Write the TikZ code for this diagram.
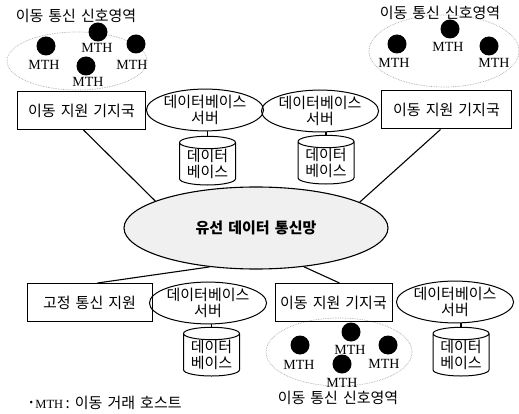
\documentclass[tikz,border=0pt]{standalone}
\usepackage{fontspec}
\setmainfont{Liberation Serif}
\newfontfamily\kr{Noto Sans CJK KR}[WordSpace=1.5]
\usetikzlibrary{shapes.geometric, positioning}

\begin{document}
\begin{tikzpicture}[
  x=1pt, y=-1pt,
  every node/.style={font=\kr\fontsize{15}{16}\selectfont},
  station/.style={draw, line width=1pt, minimum height=38pt, inner sep=0pt},
  dbserver/.style={draw, ellipse, line width=1pt, minimum height=35pt, inner sep=0pt, align=center},
  dbstore/.style={draw, cylinder, shape border rotate=90, aspect=0.3, line width=1pt, minimum width=56pt, minimum height=42pt, inner sep=0pt, align=center},
  cell/.style={draw=gray!70, densely dotted, line width=0.7pt, ellipse, inner sep=0pt},
  host/.style={circle, fill, minimum size=19pt, inner sep=0pt},
  mth/.style={font=\rmfamily\fontsize{14}{14}\selectfont, inner sep=0pt},
  link/.style={line width=1.1pt}
  ]
  \useasboundingbox (0,0) rectangle (519,414);

  % mobile signal areas
  \node[cell, minimum width=140pt, minimum height=58pt] (cellA) at (77,61) {};
  \node (cellAlbl) at (76,16) {이동 통신 신호영역};
  \node[host] (hA1) at (46,46) {};
  \node[host] (hA2) at (98,32) {};
  \node[host] (hA3) at (136,44) {};
  \node[host] (hA4) at (86,66) {};
  \node[mth] at (44,65) {MTH};
  \node[mth] at (97,48) {MTH};
  \node[mth] at (132,65) {MTH};
  \node[mth] at (88,82) {MTH};

  \node[cell, minimum width=150pt, minimum height=72pt] (cellB) at (444,51) {};
  \node (cellBlbl) at (440,13) {이동 통신 신호영역};
  \node[host] (hB1) at (397,44) {};
  \node[host] (hB2) at (450,29) {};
  \node[host] (hB3) at (489,46) {};
  \node[mth] at (394,63) {MTH};
  \node[mth] at (448,47) {MTH};
  \node[mth] at (494,63) {MTH};

  \node[cell, minimum width=146pt, minimum height=68pt] (cellC) at (339,352) {};
  \node (cellClbl) at (338,398) {이동 통신 신호영역};
  \node[host] (hC1) at (351,332) {};
  \node[host] (hC2) at (300,345) {};
  \node[host] (hC3) at (388,345) {};
  \node[host] (hC4) at (342,364) {};
  \node[mth] at (350,350) {MTH};
  \node[mth] at (299,365) {MTH};
  \node[mth] at (384,364) {MTH};
  \node[mth] at (342,383) {MTH};

  % stations, servers and databases
  \node[station, minimum width=128pt] (mbsA) at (81.5,110.5) {이동 지원 기지국};
  \node[station, minimum width=130pt] (mbsB) at (446.5,110) {이동 지원 기지국};
  \node[station, minimum width=125pt] (fixed) at (89.5,302.5) {고정 통신 지원};
  \node[station, minimum width=117pt] (mbsC) at (333.5,302.5) {이동 지원 기지국};

  \node[dbserver, minimum width=114pt] (srvA) at (205,110) {데이터베이스\\서버};
  \node[dbserver, minimum width=112pt] (srvB) at (320,111) {데이터베이스\\서버};
  \node[dbserver, minimum width=110pt] (srvC) at (208,303) {데이터베이스\\서버};
  \node[dbserver, minimum width=116pt] (srvD) at (455,302) {데이터베이스\\서버};

  \node[dbstore] (dbA) at (207.5,164) {데이터\\베이스};
  \node[dbstore] (dbB) at (326,163) {데이터\\베이스};
  \node[dbstore] (dbC) at (211.5,355) {데이터\\베이스};
  \node[dbstore] (dbD) at (461,355) {데이터\\베이스};

  % wired network
  \node[draw, ellipse, line width=1.1pt, fill=gray!12, minimum width=264pt, minimum height=82pt,
    font=\kr\bfseries\fontsize{15}{16}\selectfont] (net) at (256,228) {유선 데이터 통신망};

  \draw[link] ([xshift=2pt]mbsA.south) -- (net.165);
  \draw[link] ([xshift=-6pt]mbsB.south) -- (net.14);
  \draw[link] (net.220) -- ([xshift=8pt]fixed.north);
  \draw[link] (net.321) -- ([xshift=6pt]mbsC.north);

  \draw[link] (srvA.south -| dbA.top) -- (dbA.top);
  \draw[link] (srvB.south -| dbB.top) -- (dbB.top);
  \draw[link] (srvC.south -| dbC.top) -- (dbC.top);
  \draw[link] (srvD.south -| dbD.top) -- (dbD.top);

  \node[anchor=west] (note) at (26,403) {\raisebox{3pt}{\fontsize{10}{10}\selectfont\textbullet}\,{\rmfamily\fontsize{12.5}{12}\selectfont MTH}\,: 이동 거래 호스트};
\end{tikzpicture}
\end{document}
